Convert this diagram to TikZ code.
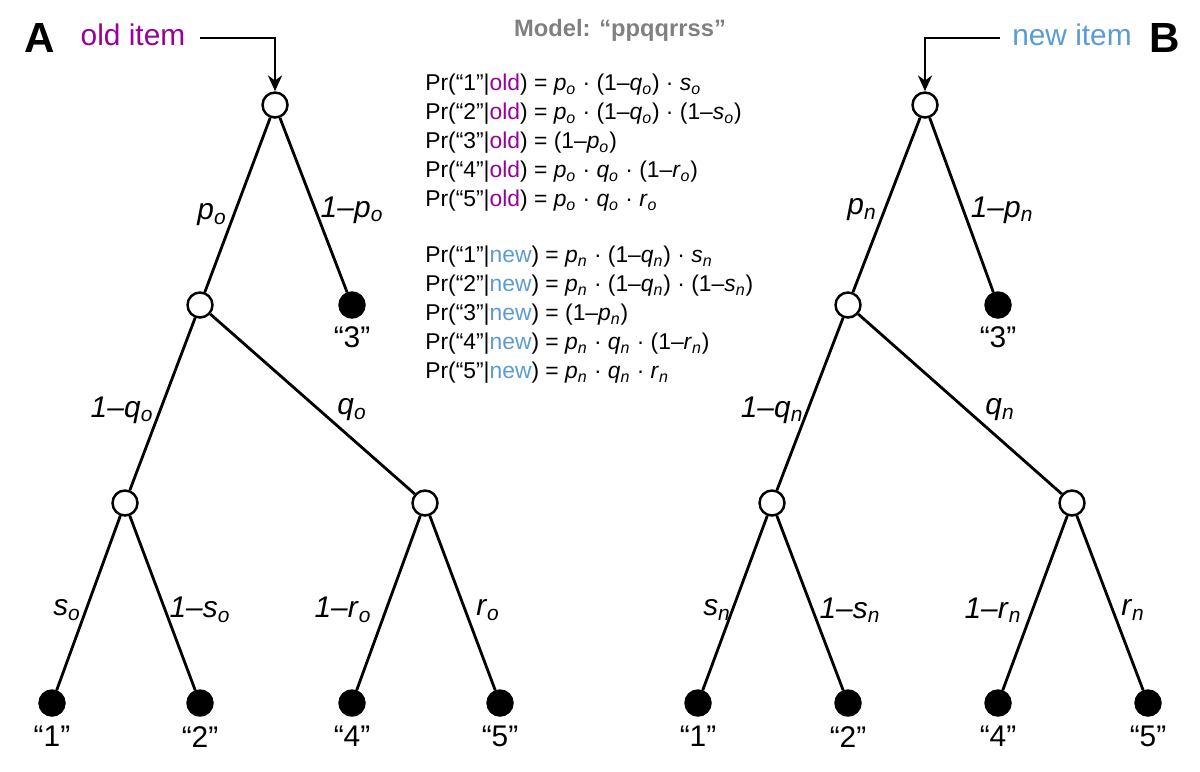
\documentclass[tikz,border=0pt]{standalone}
\usepackage{fontspec}
\setmainfont{Liberation Sans}
\usetikzlibrary{arrows.meta}
\definecolor{oldc}{HTML}{990099}
\definecolor{newc}{HTML}{5B9BD5}
\newcommand{\vv}[2]{\textit{#1}\textsubscript{\textit{#2}}}
\begin{document}
\begin{tikzpicture}[x=0.02cm,y=-0.02cm,
  open/.style={circle,draw,line width=1.4pt,fill=white,minimum size=0.5cm,inner sep=0},
  full/.style={circle,draw,fill=black,line width=1.4pt,minimum size=0.5cm,inner sep=0},
  edge/.style={line width=1.6pt},
  lbl/.style={font=\fontsize{17}{17}\selectfont},
  leaflbl/.style={font=\fontsize{17}{17}\selectfont,anchor=north},
  eq/.style={font=\fontsize{13}{13}\selectfont,anchor=west,inner sep=0}]
\useasboundingbox (0,0) rectangle (1200,771);
% ---------- Tree A
\node[open] (a0) at (275,105) {};
\node[open] (a1) at (200,305) {};
\node[full] (a3) at (352,305) {};
\node[open] (a2) at (125,503) {};
\node[open] (a4) at (425,503) {};
\node[full] (aL1) at (52,703) {};
\node[full] (aL2) at (200,703) {};
\node[full] (aL4) at (352,703) {};
\node[full] (aL5) at (500,703) {};
\draw[edge] (a0)--(a1) (a0)--(a3) (a1)--(a2) (a1)--(a4) (a2)--(aL1) (a2)--(aL2) (a4)--(aL4) (a4)--(aL5);
\node[leaflbl] (ta3) at (352,320) {“3”};
\node[leaflbl] (taL1) at (52,720) {“1”};
\node[leaflbl] (taL2) at (200,720) {“2”};
\node[leaflbl] (taL4) at (352,720) {“4”};
\node[leaflbl] (taL5) at (500,720) {“5”};
\node[lbl] (la1) at (212,215) {\vv{p}{o}};
\node[lbl] (la2) at (352,210) {\textit{1–}\vv{p}{o}};
\node[lbl] (la3) at (122,410) {\textit{1–}\vv{q}{o}};
\node[lbl] (la4) at (352,410) {\vv{q}{o}};
\node[lbl] (la5) at (67,610) {\vv{s}{o}};
\node[lbl] (la6) at (200,610) {\textit{1–}\vv{s}{o}};
\node[lbl] (la7) at (343,610) {\textit{1–}\vv{r}{o}};
\node[lbl] (la8) at (488,610) {\vv{r}{o}};
\node[font=\fontsize{24}{24}\selectfont\bfseries] (A) at (40,38) {A};
\node[font=\fontsize{17}{17}\selectfont,text=oldc] (olditem) at (133,35) {old item};
\coordinate (sa) at (200,38);
\coordinate (ca) at (275,38);
\draw[edge,-{Stealth[length=9pt,width=8pt]}] (sa) -- (ca) -- (a0);
% ---------- Tree B
\node[open] (b0) at (925,105) {};
\node[open] (b1) at (848,305) {};
\node[full] (b3) at (998,305) {};
\node[open] (b2) at (772,503) {};
\node[open] (b4) at (1072,503) {};
\node[full] (bL1) at (698,703) {};
\node[full] (bL2) at (848,703) {};
\node[full] (bL4) at (998,703) {};
\node[full] (bL5) at (1148,703) {};
\draw[edge] (b0)--(b1) (b0)--(b3) (b1)--(b2) (b1)--(b4) (b2)--(bL1) (b2)--(bL2) (b4)--(bL4) (b4)--(bL5);
\node[leaflbl] (tb3) at (998,320) {“3”};
\node[leaflbl] (tbL1) at (698,720) {“1”};
\node[leaflbl] (tbL2) at (848,720) {“2”};
\node[leaflbl] (tbL4) at (998,720) {“4”};
\node[leaflbl] (tbL5) at (1148,720) {“5”};
\node[lbl] (lb1) at (862,210) {\vv{p}{n}};
\node[lbl] (lb2) at (1002,210) {\textit{1–}\vv{p}{n}};
\node[lbl] (lb3) at (772,410) {\textit{1–}\vv{q}{n}};
\node[lbl] (lb4) at (1000,410) {\vv{q}{n}};
\node[lbl] (lb5) at (717,610) {\vv{s}{n}};
\node[lbl] (lb6) at (850,610) {\textit{1–}\vv{s}{n}};
\node[lbl] (lb7) at (993,610) {\textit{1–}\vv{r}{n}};
\node[lbl] (lb8) at (1133,610) {\vv{r}{n}};
\node[font=\fontsize{24}{24}\selectfont\bfseries] (B) at (1165,38) {B};
\node[font=\fontsize{17}{17}\selectfont,text=newc] (newitem) at (1072,35) {new item};
\coordinate (sb) at (1000,38);
\coordinate (cb) at (925,38);
\draw[edge,-{Stealth[length=9pt,width=8pt]}] (sb) -- (cb) -- (b0);
% ---------- Equations
\node[font=\fontsize{13.5}{13.5}\selectfont\bfseries,text=gray] (model) at (620,30) {Model: “ppqqrrss”};
\node[eq] (e1) at (425,85) {Pr(“1”|\textcolor{oldc}{old}) = \vv{p}{o} · (1–\vv{q}{o}) · \vv{s}{o}};
\node[eq] (e2) at (425,114) {Pr(“2”|\textcolor{oldc}{old}) = \vv{p}{o} · (1–\vv{q}{o}) · (1–\vv{s}{o})};
\node[eq] (e3) at (425,143) {Pr(“3”|\textcolor{oldc}{old}) = (1–\vv{p}{o})};
\node[eq] (e4) at (425,172) {Pr(“4”|\textcolor{oldc}{old}) = \vv{p}{o} · \vv{q}{o} · (1–\vv{r}{o})};
\node[eq] (e5) at (425,201) {Pr(“5”|\textcolor{oldc}{old}) = \vv{p}{o} · \vv{q}{o} · \vv{r}{o}};
\node[eq] (f1) at (425,257) {Pr(“1”|\textcolor{newc}{new}) = \vv{p}{n} · (1–\vv{q}{n}) · \vv{s}{n}};
\node[eq] (f2) at (425,286) {Pr(“2”|\textcolor{newc}{new}) = \vv{p}{n} · (1–\vv{q}{n}) · (1–\vv{s}{n})};
\node[eq] (f3) at (425,315) {Pr(“3”|\textcolor{newc}{new}) = (1–\vv{p}{n})};
\node[eq] (f4) at (425,344) {Pr(“4”|\textcolor{newc}{new}) = \vv{p}{n} · \vv{q}{n} · (1–\vv{r}{n})};
\node[eq] (f5) at (425,373) {Pr(“5”|\textcolor{newc}{new}) = \vv{p}{n} · \vv{q}{n} · \vv{r}{n}};
\end{tikzpicture}
\end{document}
